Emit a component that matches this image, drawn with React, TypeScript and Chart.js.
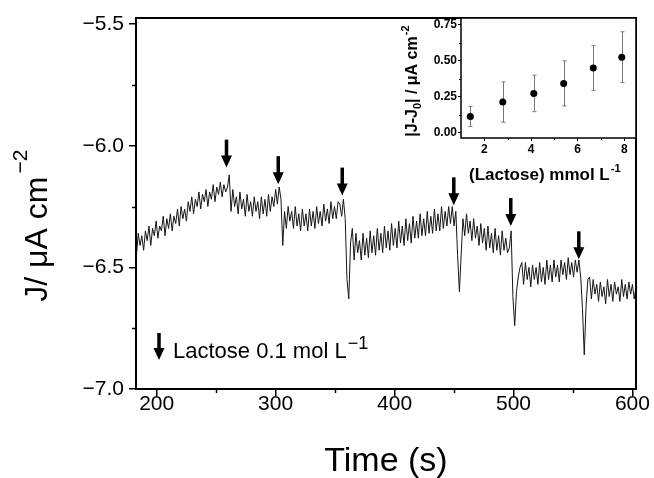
import React, { useEffect, useRef } from "react";
import { Chart, registerables } from "chart.js";

Chart.register(...registerables);

const FONT = '"Liberation Sans", Arial, Helvetica, sans-serif';

// ---------- main chart data ----------
const timeStart = 183; // s, first sample
const timeStep = 1.5; // s, sampling interval
const currentJ = [
  -6.45, -6.36, -6.41, -6.37, -6.43, -6.35, -6.39, -6.33, -6.41, -6.34,
  -6.37, -6.31, -6.38, -6.33, -6.35, -6.29, -6.37, -6.30, -6.34, -6.28,
  -6.35, -6.29, -6.32, -6.26, -6.33, -6.25, -6.30, -6.26, -6.31, -6.23,
  -6.27, -6.21, -6.28, -6.22, -6.25, -6.19, -6.26, -6.20, -6.23, -6.18,
  -6.25, -6.19, -6.22, -6.16, -6.23, -6.17, -6.20, -6.15, -6.21, -6.16,
  -6.19, -6.17, -6.12,
  -6.27, -6.18, -6.25, -6.21, -6.28, -6.19, -6.26, -6.22, -6.29, -6.20,
  -6.27, -6.23, -6.29, -6.21, -6.27, -6.23, -6.30, -6.21, -6.28, -6.22,
  -6.29, -6.20, -6.27, -6.21, -6.25, -6.18, -6.24,
  -6.17, -6.22, -6.41, -6.27,
  -6.34, -6.25, -6.31, -6.27, -6.34, -6.25, -6.33, -6.28, -6.35, -6.26,
  -6.33, -6.28, -6.35, -6.26, -6.33, -6.27, -6.34, -6.25, -6.32, -6.27,
  -6.33, -6.24, -6.31, -6.26, -6.32, -6.23, -6.30, -6.25, -6.30, -6.23,
  -6.24, -6.29, -6.22,
  -6.30, -6.55, -6.63, -6.40, -6.34,
  -6.47, -6.36, -6.44, -6.39, -6.47, -6.36, -6.45, -6.38, -6.46, -6.35,
  -6.44, -6.37, -6.45, -6.34, -6.43, -6.36, -6.44, -6.33, -6.42, -6.35,
  -6.43, -6.32, -6.41, -6.34, -6.42, -6.31, -6.40, -6.33, -6.41, -6.30,
  -6.39, -6.32, -6.40, -6.29, -6.38, -6.31, -6.38, -6.28, -6.37, -6.30,
  -6.37, -6.27, -6.36, -6.29, -6.36, -6.26, -6.35, -6.28, -6.35, -6.25,
  -6.34, -6.27, -6.33, -6.25, -6.32,
  -6.25, -6.33, -6.27, -6.45, -6.60, -6.45, -6.30,
  -6.37, -6.28, -6.36, -6.31, -6.39, -6.30, -6.38, -6.33, -6.41, -6.32,
  -6.40, -6.34, -6.43, -6.33, -6.42, -6.36, -6.44, -6.34, -6.43, -6.37,
  -6.45, -6.35, -6.43, -6.38, -6.44, -6.42, -6.35,
  -6.62, -6.74, -6.60, -6.54, -6.50, -6.48,
  -6.57, -6.48, -6.55, -6.50, -6.58, -6.49, -6.55, -6.50, -6.57, -6.48,
  -6.56, -6.50, -6.57, -6.47, -6.55, -6.49, -6.56, -6.47, -6.54, -6.49,
  -6.56, -6.47, -6.53, -6.48, -6.55, -6.46, -6.53, -6.48, -6.54, -6.47,
  -6.52,
  -6.47, -6.54, -6.67, -6.86, -6.66, -6.55, -6.54,
  -6.63, -6.55, -6.61, -6.57, -6.64, -6.56, -6.62, -6.58, -6.65, -6.55,
  -6.62, -6.57, -6.64, -6.56, -6.61, -6.58, -6.64, -6.55, -6.62, -6.57,
  -6.63, -6.56, -6.61, -6.57, -6.63, -6.58,
];

const xMin = 182.6;
const xMax = 603;
const yMin = -7.0;
const yMax = -5.475;
const xTickValues = [200, 300, 400, 500, 600];
const xMinorTicks = [250, 350, 450, 550];
const yTickValues = [-7.0, -6.5, -6.0, -5.5];
const yMinorTicks = [-6.75, -6.25, -5.75];

// lactose additions (arrow time, arrow tip current)
const arrowTimes = [258.7, 302.2, 356, 449.8, 497.7, 554.9];
const arrowTipJ = [-6.09, -6.158, -6.205, -6.245, -6.33, -6.467];

const xTitle = "Time (s)";
const yTitle = "J/ \u03bcA cm";
const yTitleSup = "\u22122";
const legendLabel = "Lactose 0.1 mol L";
const legendSup = "\u22121";

// ---------- inset data ----------
const lactoseConc = [1.4, 2.79, 4.12, 5.4, 6.67, 7.89];
const deltaJ = [0.112, 0.212, 0.272, 0.342, 0.449, 0.524];
const deltaJErr = [0.07, 0.14, 0.127, 0.157, 0.156, 0.177];
const insetXTicks = [2, 4, 6, 8];
const insetXMinor = [3, 5, 7];
const insetYTicks = [0, 0.25, 0.5, 0.75];
const insetYMinor = [0.125, 0.375, 0.625];
const insetXTitle = "(Lactose) mmol L";
const insetXTitleSup = "-1";

function minusFmt(v: number, d: number) {
  return v.toFixed(d).replace("-", "\u2212");
}

function drawArrow(ctx: CanvasRenderingContext2D, x: number, tipY: number, len = 28) {
  const headLen = 12;
  const headW = 11;
  const shaftW = 3.5;
  ctx.fillStyle = "#000";
  ctx.fillRect(x - shaftW / 2, tipY - len, shaftW, len - headLen + 1);
  ctx.beginPath();
  ctx.moveTo(x - headW / 2, tipY - headLen);
  ctx.lineTo(x + headW / 2, tipY - headLen);
  ctx.lineTo(x, tipY);
  ctx.closePath();
  ctx.fill();
}

const mainDecor = {
  id: "mainDecor",
  afterDraw(chart: any) {
    const { ctx, chartArea: a } = chart;
    const x = chart.scales.x;
    const y = chart.scales.y;
    ctx.save();
    ctx.strokeStyle = "#000";
    ctx.lineWidth = 2;
    ctx.strokeRect(a.left, a.top, a.right - a.left, a.bottom - a.top);
    ctx.lineWidth = 1.5;
    xMinorTicks.forEach((v) => {
      const px = Math.round(x.getPixelForValue(v)) + 0.5;
      ctx.beginPath();
      ctx.moveTo(px, a.bottom);
      ctx.lineTo(px, a.bottom + 4);
      ctx.stroke();
    });
    yMinorTicks.forEach((v) => {
      const py = Math.round(y.getPixelForValue(v)) + 0.5;
      ctx.beginPath();
      ctx.moveTo(a.left, py);
      ctx.lineTo(a.left - 4, py);
      ctx.stroke();
    });
    arrowTimes.forEach((t, i) => {
      drawArrow(ctx, x.getPixelForValue(t), y.getPixelForValue(arrowTipJ[i]));
    });
    // legend
    drawArrow(ctx, a.left + 23, a.bottom - 29, 27);
    ctx.fillStyle = "#000";
    ctx.textAlign = "left";
    ctx.textBaseline = "alphabetic";
    ctx.font = `22px ${FONT}`;
    ctx.fillText(legendLabel, a.left + 37, a.bottom - 31);
    const lw = ctx.measureText(legendLabel).width;
    ctx.font = `18px ${FONT}`;
    ctx.fillText(legendSup, a.left + 37 + lw + 1, a.bottom - 40);
    // x title
    ctx.font = `34px ${FONT}`;
    ctx.textAlign = "center";
    ctx.fillText(xTitle, (a.left + a.right) / 2, 471);
    // y title
    ctx.save();
    ctx.translate(46.7, 301.7);
    ctx.rotate(-Math.PI / 2);
    ctx.textAlign = "left";
    ctx.font = `32px ${FONT}`;
    ctx.fillText(yTitle, 0, 0);
    const yw = ctx.measureText(yTitle).width;
    ctx.font = `21px ${FONT}`;
    ctx.fillText(yTitleSup, yw + 3, -20);
    ctx.restore();
    ctx.restore();
  },
};

const insetDecor = {
  id: "insetDecor",
  beforeDraw(chart: any) {
    const { ctx, chartArea: a } = chart;
    ctx.save();
    ctx.fillStyle = "#fff";
    ctx.fillRect(a.left, a.top, a.right - a.left, a.bottom - a.top);
    ctx.restore();
  },
  beforeDatasetsDraw(chart: any) {
    const { ctx } = chart;
    const x = chart.scales.x;
    const y = chart.scales.y;
    ctx.save();
    ctx.strokeStyle = "#777";
    ctx.lineWidth = 1;
    lactoseConc.forEach((c, i) => {
      const px = Math.round(x.getPixelForValue(c)) + 0.5;
      const y1 = y.getPixelForValue(deltaJ[i] - deltaJErr[i]);
      const y2 = y.getPixelForValue(deltaJ[i] + deltaJErr[i]);
      ctx.beginPath();
      ctx.moveTo(px, y1);
      ctx.lineTo(px, y2);
      ctx.moveTo(px - 2, y1);
      ctx.lineTo(px + 2, y1);
      ctx.moveTo(px - 2, y2);
      ctx.lineTo(px + 2, y2);
      ctx.stroke();
    });
    ctx.restore();
  },
  afterDraw(chart: any) {
    const { ctx, chartArea: a } = chart;
    const x = chart.scales.x;
    const y = chart.scales.y;
    ctx.save();
    ctx.strokeStyle = "#000";
    ctx.lineWidth = 1.5;
    ctx.strokeRect(a.left, a.top, a.right - a.left, a.bottom - a.top);
    ctx.lineWidth = 1;
    insetXMinor.forEach((v) => {
      const px = Math.round(x.getPixelForValue(v)) + 0.5;
      ctx.beginPath();
      ctx.moveTo(px, a.bottom);
      ctx.lineTo(px, a.bottom + 2);
      ctx.stroke();
    });
    insetYMinor.forEach((v) => {
      const py = Math.round(y.getPixelForValue(v)) + 0.5;
      ctx.beginPath();
      ctx.moveTo(a.left, py);
      ctx.lineTo(a.left - 2, py);
      ctx.stroke();
    });
    ctx.fillStyle = "#000";
    ctx.textBaseline = "alphabetic";
    ctx.textAlign = "left";
    ctx.font = `bold 17px ${FONT}`;
    const tw = ctx.measureText(insetXTitle).width;
    const tx = 469 - 380;
    ctx.fillText(insetXTitle, tx, 180);
    ctx.font = `bold 11px ${FONT}`;
    ctx.fillText(insetXTitleSup, tx + tw + 1, 172);
    // y title
    ctx.save();
    ctx.translate(417.3 - 380, 136.7);
    ctx.rotate(-Math.PI / 2);
    let cx = 0;
    const seg = (s: string, size: number, dy: number) => {
      ctx.font = `bold ${size}px ${FONT}`;
      ctx.fillText(s, cx, dy);
      cx += ctx.measureText(s).width;
    };
    seg("|J-J", 16, 0);
    seg("0", 11, 4);
    seg("| / \u03bcA cm", 16, 0);
    cx += 1;
    seg("-2", 11, -8);
    ctx.restore();
    ctx.restore();
  },
};

export default function App() {
  const mainRef = useRef<HTMLCanvasElement>(null);
  const insetRef = useRef<HTMLCanvasElement>(null);

  useEffect(() => {
    const points = currentJ.map((v, i) => ({ x: timeStart + i * timeStep, y: v }));
    const main = new Chart(mainRef.current as HTMLCanvasElement, {
      type: "line",
      data: {
        datasets: [
          {
            data: points,
            borderColor: "#151515",
            borderWidth: 1,
            pointRadius: 0,
            tension: 0,
            fill: false,
          },
        ],
      },
      options: {
        animation: false,
        responsive: false,
        devicePixelRatio: 1,
        events: [],
        layout: { padding: { top: 18, right: 18, left: 0, bottom: 0 } },
        plugins: { legend: { display: false }, tooltip: { enabled: false } },
        scales: {
          x: {
            type: "linear",
            min: xMin,
            max: xMax,
            afterBuildTicks: (s: any) => {
              s.ticks = xTickValues.map((v) => ({ value: v }));
            },
            afterFit: (s: any) => {
              s.height = 89;
            },
            grid: { drawOnChartArea: false, drawTicks: true, tickLength: 7, color: "#000", lineWidth: 1.5 },
            border: { display: false },
            ticks: {
              color: "#000",
              font: { family: FONT, size: 21 },
              padding: -4,
              maxRotation: 0,
              callback: (v: any) => String(v),
            },
          },
          y: {
            type: "linear",
            min: yMin,
            max: yMax,
            afterBuildTicks: (s: any) => {
              s.ticks = yTickValues.map((v) => ({ value: v }));
            },
            afterFit: (s: any) => {
              s.width = 136;
            },
            grid: { drawOnChartArea: false, drawTicks: true, tickLength: 7, color: "#000", lineWidth: 1.5 },
            border: { display: false },
            ticks: {
              color: "#000",
              font: { family: FONT, size: 21 },
              padding: 5,
              callback: (v: any) => minusFmt(Number(v), 1),
            },
          },
        },
      },
      plugins: [mainDecor],
    } as any);

    const inset = new Chart(insetRef.current as HTMLCanvasElement, {
      type: "scatter",
      data: {
        datasets: [
          {
            data: lactoseConc.map((c, i) => ({ x: c, y: deltaJ[i] })),
            backgroundColor: "#000",
            borderColor: "#000",
            pointRadius: 3.5,
            borderWidth: 0,
          },
        ],
      },
      options: {
        animation: false,
        responsive: false,
        devicePixelRatio: 1,
        events: [],
        layout: { padding: { top: 18, right: 18, left: 0, bottom: 0 } },
        plugins: { legend: { display: false }, tooltip: { enabled: false } },
        scales: {
          x: {
            type: "linear",
            min: 1,
            max: 8.5,
            afterBuildTicks: (s: any) => {
              s.ticks = insetXTicks.map((v) => ({ value: v }));
            },
            afterFit: (s: any) => {
              s.height = 62;
            },
            grid: { drawOnChartArea: false, drawTicks: true, tickLength: 3, color: "#000", lineWidth: 1 },
            border: { display: false },
            ticks: {
              color: "#000",
              font: { family: FONT, size: 12, weight: "bold" },
              padding: 1,
              maxRotation: 0,
              callback: (v: any) => String(v),
            },
          },
          y: {
            type: "linear",
            min: -0.038,
            max: 0.797,
            afterBuildTicks: (s: any) => {
              s.ticks = insetYTicks.map((v) => ({ value: v }));
            },
            afterFit: (s: any) => {
              s.width = 81;
            },
            grid: { drawOnChartArea: false, drawTicks: true, tickLength: 3, color: "#000", lineWidth: 1 },
            border: { display: false },
            ticks: {
              color: "#000",
              font: { family: FONT, size: 12, weight: "bold" },
              padding: 1,
              callback: (v: any) => Number(v).toFixed(2),
            },
          },
        },
      },
      plugins: [insetDecor],
    } as any);

    return () => {
      main.destroy();
      inset.destroy();
    };
  }, []);

  return (
    <div style={{ position: "absolute", left: 0, top: 0, width: 654, height: 478, background: "#fff" }}>
      <canvas ref={mainRef} width={654} height={478} style={{ position: "absolute", left: 0, top: 0, width: 654, height: 478 }} />
      <canvas ref={insetRef} width={274} height={200} style={{ position: "absolute", left: 380, top: 0, width: 274, height: 200 }} />
    </div>
  );
}
